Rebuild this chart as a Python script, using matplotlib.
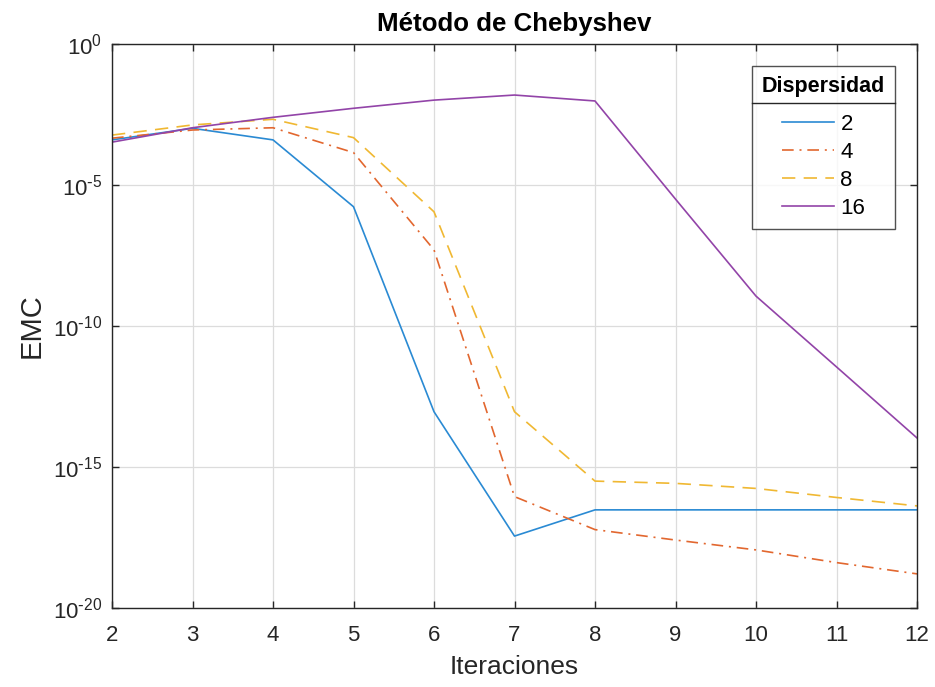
import math
import matplotlib
matplotlib.use("Agg")
import matplotlib.pyplot as plt
from matplotlib.lines import Line2D
from matplotlib.ticker import FixedLocator, FuncFormatter, NullLocator

plt.rcParams['font.family'] = ['Liberation Sans', 'DejaVu Sans']
plt.rcParams['mathtext.default'] = 'regular'
plt.rcParams['axes.unicode_minus'] = False

iteraciones = [2, 3, 4, 5, 6, 7, 8, 9, 10, 11, 12]

# log10 of the mean squared error per iteration, one list per sparsity level
emc_2 = [-3.40, -2.99, -3.40, -5.77, -13.04, -17.45, -16.52, -16.52, -16.52, -16.52, -16.52]
emc_4 = [-3.34, -3.05, -2.97, -3.85, -7.30, -16.05, -17.22, -17.59, -17.94, -18.39, -18.79]
emc_8 = [-3.23, -2.87, -2.67, -3.32, -5.95, -13.04, -15.50, -15.58, -15.76, -16.08, -16.38]
emc_16 = [-3.48, -2.97, -2.60, -2.28, -1.99, -1.81, -2.02, -5.50, -8.94, -11.45, -13.97]

etiquetas = ['2', '4', '8', '16']
y_ticks = [1e-20, 1e-15, 1e-10, 1e-5, 1e0]

series = [emc_2, emc_4, emc_8, emc_16]
colores = ['#2a8ad3', '#e2672f', '#f0b832', '#9244a8']
estilos = ['-', (0, (7, 3.5, 1.2, 3.5)), (0, (8, 5)), '-']


def potencia(v, pos):
    e = round(math.log10(v))
    if e < 0:
        return r'$10^{\text{-}%d}$' % (-e)
    return r'$10^{%d}$' % e


fig = plt.figure(figsize=(9.35, 6.87), dpi=100)
ax = fig.add_axes([112 / 935, 79 / 687, 805 / 935, 564 / 687])

for vals, c, ls, lab in zip(series, colores, estilos, etiquetas):
    ax.plot(iteraciones, [10.0 ** v for v in vals], color=c, linestyle=ls,
            linewidth=1.2, label=lab)

ax.set_yscale('log')
ax.set_xlim(2, 12)
ax.set_ylim(1e-20, 1e0)
ax.set_xticks(range(2, 13))
ax.yaxis.set_major_locator(FixedLocator(y_ticks))
ax.yaxis.set_minor_locator(NullLocator())
ax.yaxis.set_major_formatter(FuncFormatter(potencia))

ax.grid(True, color='#dcdcdc', linewidth=0.9)
ax.set_axisbelow(True)
for s in ax.spines.values():
    s.set_color('#262626')
    s.set_linewidth(1.0)
ax.tick_params(axis='both', which='major', direction='in', length=5, width=1.0,
               top=True, right=True, labelsize=16, colors='#262626')
ax.tick_params(axis='x', pad=12)
ax.tick_params(axis='y', pad=7)

ax.set_title('Método de Chebyshev', fontsize=18.6, fontweight='bold', color='#000000', pad=9)
ax.set_xlabel('Iteraciones', fontsize=19, color='#262626', labelpad=7)
ax.set_ylabel('EMC', fontsize=21, color='#262626', labelpad=5)

leg = ax.legend(title='Dispersidad', loc='upper right', bbox_to_anchor=(0.9727, 0.961),
                fontsize=16, title_fontproperties={'weight': 'bold', 'size': 15.5},
                frameon=True, fancybox=False, edgecolor='#262626',
                handlelength=2.35, handletextpad=0.3, labelspacing=0.32,
                borderpad=0.45, borderaxespad=0)
leg.get_frame().set_linewidth(1.0)
leg._legend_box.sep = 12

fig.canvas.draw()
fb = leg.get_frame().get_window_extent()
tb = leg.get_title().get_window_extent()
ysep = tb.y0 - 6
inv = fig.transFigure.inverted()
(x0, y0), (x1, _) = inv.transform([(fb.x0, ysep), (fb.x1, ysep)])
fig.add_artist(Line2D([x0, x1], [y0, y0], transform=fig.transFigure,
                      color='#262626', linewidth=1.0))

fig.savefig('out.png', dpi=100, facecolor='white')
